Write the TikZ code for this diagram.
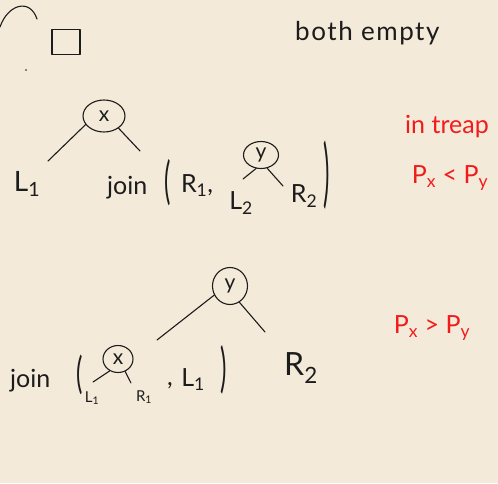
\documentclass[tikz,border=0pt]{standalone}
\usepackage{fontspec}
\setmainfont{Lato}
\usetikzlibrary{shapes.geometric}
\definecolor{cpaper}{HTML}{F3EAD9}
\definecolor{cink}{HTML}{1C1C1C}
\definecolor{cred}{HTML}{F21B1B}
\newcommand{\tallparen}[2]{\scalebox{1}[#1]{#2}}

\begin{document}
\begin{tikzpicture}[
    x=1pt, y=-1pt,
    line cap=round, line join=round,
    ink/.style={draw=cink, line width=1.1pt},
    edge/.style={ink},
    knot/.style={
        ellipse, ink, inner sep=0pt,
        font=\fontsize{21}{21}\selectfont, text=cink
    },
    word/.style={font=\fontsize{25}{25}\selectfont, text=cink, inner sep=0pt},
    small/.style={font=\fontsize{15}{15}\selectfont, text=cink, inner sep=0pt},
    paren/.style={font=\fontsize{24}{24}\selectfont, text=cink, inner sep=0pt},
    note/.style={font=\fontsize{25}{25}\selectfont, text=cred, inner sep=0pt},
]

% --- Paper ------------------------------------------------------------------
\fill[cpaper] (0,0) rectangle (498,483);
\useasboundingbox (0,0) rectangle (498,483);

% --- Top strip: base case -----------------------------------------------------
\draw[ink] (0,27) .. controls (8,4) and (30,-2) .. (37,19);
\node[ink, minimum width=28pt, minimum height=25pt, inner sep=0pt]
    (emptybox) at (66,42) {};
\fill[cink] (26,70) circle (0.9);
\node[word, font=\fontsize{26}{26}\addfontfeature{LetterSpace=6}\selectfont,
    anchor=base west] (bothempty) at (295,40) {both empty};

% --- First case: x on top ---------------------------------------------------
\node[knot, minimum width=42pt, minimum height=32pt] (xa) at (104,116) {x};
\node[word, font=\fontsize{28}{28}\selectfont] (l1a) at (27,184)
    {L\textsubscript{1}};
\node[word, anchor=base west] (joina) at (107,194) {join};
\node[paren] (opa) at (168,183) {\tallparen{2.1}{(}};
\node[word] (r1a) at (197,186) {R\textsubscript{1},};
\node[knot, minimum width=35pt, minimum height=27pt] (ya) at (261,155) {y};
\node[word] (l2a) at (241,203) {L\textsubscript{2}};
\node[word] (r2a) at (304,196) {R\textsubscript{2}};
\node[paren] (cpa) at (327,175) {\tallparen{3.1}{)}};

\coordinate (xakidl) at (48,161);
\coordinate (xakidr) at (140,151);
\coordinate (yakidl) at (243,179);
\coordinate (yakidr) at (283,186);
\draw[edge] (xa.205) -- (xakidl);
\draw[edge] (xa.320) -- (xakidr);
\draw[edge] (ya.250) -- (yakidl);
\draw[edge] (ya.295) -- (yakidr);

% --- Second case: y on top --------------------------------------------------
\node[knot, minimum width=35pt, minimum height=37pt] (yb) at (230,286) {y};
\node[word, anchor=base west] (joinb) at (10,387) {join};
\node[paren] (opb) at (80,375) {\tallparen{1.8}{(}};
\node[knot, minimum width=30pt, minimum height=27pt] (xb) at (118,359) {x};
\node[small] (l1b) at (92,398) {L\textsubscript{1}};
\node[small] (r1b) at (144,397) {R\textsubscript{1}};
\node[word] (sepb) at (170,386) {,};
\node[word] (l1c) at (193,380) {L\textsubscript{1}};
\node[paren] (cpb) at (224,370) {\tallparen{2.2}{)}};
\node[word, font=\fontsize{32}{32}\selectfont] (r2b) at (301,368)
    {R\textsubscript{2}};

\coordinate (ybkidl) at (157,340);
\coordinate (ybkidr) at (265,332);
\coordinate (xbkidl) at (93,382);
\coordinate (xbkidr) at (131,383);
\draw[edge] (yb.210) -- (ybkidl);
\draw[edge] (yb.300) -- (ybkidr);
\draw[edge] (xb.235) -- (xbkidl);
\draw[edge] (xb.300) -- (xbkidr);

% --- Priority notes (red) ---------------------------------------------------
\node[note] (treap) at (447,127) {in treap};
\node[note] (pless) at (450,178) {P\textsubscript{x} < P\textsubscript{y}};
\node[note] (pmore) at (432,328) {P\textsubscript{x} > P\textsubscript{y}};

\end{tikzpicture}
\end{document}
